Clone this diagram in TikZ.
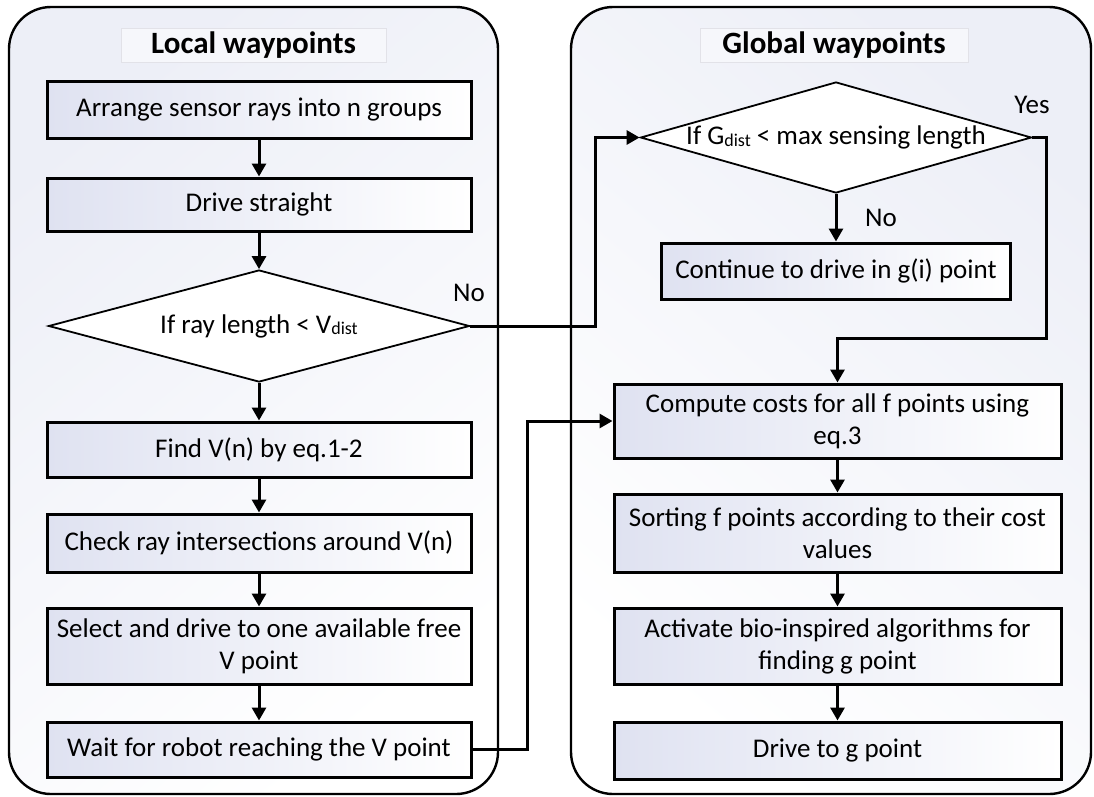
\documentclass[tikz,border=0pt]{standalone}
\usepackage{fontspec}
\setmainfont{Carlito}
\usetikzlibrary{arrows.meta,shapes.geometric}

\definecolor{lav}{HTML}{DFE2F1}
\definecolor{panelfill}{HTML}{EDEFF7}
\definecolor{titleline}{HTML}{E2E2E8}
\definecolor{titlefill}{HTML}{F6F7FB}

\newcommand\boxfont{\fontsize{27}{32}\selectfont}
\newcommand\headfont{\fontsize{31}{34}\selectfont\bfseries}
\newcommand\dist{\raisebox{-1.5pt}{\fontsize{18}{18}\selectfont dist}}

\begin{document}
\begin{tikzpicture}[x=1pt,y=-1pt,
  panelframe/.style={draw=black,line width=2.4pt,rounded corners=42pt},
  titlebox/.style={draw=titleline,line width=1pt,fill=titlefill,
    minimum height=34pt,inner sep=0pt,font=\headfont},
  stepbox/.style={draw=black,line width=3pt,left color=lav,right color=white,
    minimum height=#1,inner sep=0pt,align=center,font=\boxfont},
  lstep/.style={stepbox=#1,minimum width=424pt},
  rstep/.style={stepbox=#1,minimum width=447pt},
  decision/.style={shape=diamond,draw=black,line width=1.8pt,fill=white,
    inner sep=0pt,font=\boxfont},
  flow/.style={line width=3pt,-{Triangle[length=13pt,width=14pt]}},
  flowlabel/.style={font=\boxfont,inner sep=0pt}
]
\useasboundingbox (0,0) rectangle (1094,796);

% two panels with soft tinted background
\path[panelframe,shading=axis,top color=panelfill,bottom color=white,shading angle=40]
  (9,7) rectangle (498,794);
\path[panelframe,shading=axis,top color=panelfill,bottom color=white,shading angle=-40]
  (571,7) rectangle (1091,794);

% panel headings
\node[titlebox,minimum width=265pt] (tl) at (253.5,45) {Local waypoints};
\node[titlebox,minimum width=268pt] (tg) at (834,45) {Global waypoints};

% local waypoints column
\node[lstep=57pt] (l1) at (259,109.5) {Arrange sensor rays into n groups};
\node[lstep=53pt] (l2) at (259,204.5) {Drive straight};
\node[decision,minimum width=421pt,minimum height=112pt] (ld) at (259,326)
  {\makebox[0pt]{If ray length < V\dist}};
\node[lstep=55pt] (l3) at (259,449.5) {Find V(n) by eq.1-2};
\node[lstep=58pt] (l4) at (259,543) {Check ray intersections around V(n)};
\node[lstep=76pt] (l5) at (259,646) {Select and drive to one available free\\V point};
\node[lstep=55pt] (l6) at (259,749.5) {Wait for robot reaching the V point};

% global waypoints column
\node[decision,minimum width=391pt,minimum height=111pt] (gd) at (836,137.5)
  {\makebox[0pt]{If G\dist{} < max sensing length}};
\node[stepbox=56pt,minimum width=349pt] (g1) at (836,271) {Continue to drive in g(i) point};
\node[rstep=74pt] (g2) at (837.5,421) {Compute costs for all f points using\\eq.3};
\node[rstep=78pt] (g3) at (837.5,533) {Sorting f points according to their cost\\values};
\node[rstep=76pt] (g4) at (837.5,646) {Activate bio-inspired algorithms for\\finding g point};
\node[rstep=57pt] (g5) at (837.5,750.5) {Drive to g point};

% branch labels
\node[flowlabel] (noa) at (469,293) {No};
\node[flowlabel] (nob) at (881,218) {No};
\node[flowlabel] (yes) at (1032,105) {Yes};

% local flow
\draw[flow] (l1) -- (l2);
\draw[flow] (l2) -- (ld);
\draw[flow] (ld) -- (l3);
\draw[flow] (l3) -- (l4);
\draw[flow] (l4) -- (l5);
\draw[flow] (l5) -- (l6);

% links between the panels
\draw[flow] (ld.east) -- (595,326) -- (595,137.5) -- (gd.west);
\draw[flow] (l6.east) -- (527,749.5) -- (527,421) -- (g2.west);

% global flow
\draw[flow] (gd.south) -- (g1.north);
\draw[flow] (gd.east) -- (1046,137.5) -- (1046,338) -- (837.5,338) -- (g2.north);
\draw[flow] (g2) -- (g3);
\draw[flow] (g3) -- (g4);
\draw[flow] (g4) -- (g5);
\end{tikzpicture}
\end{document}
